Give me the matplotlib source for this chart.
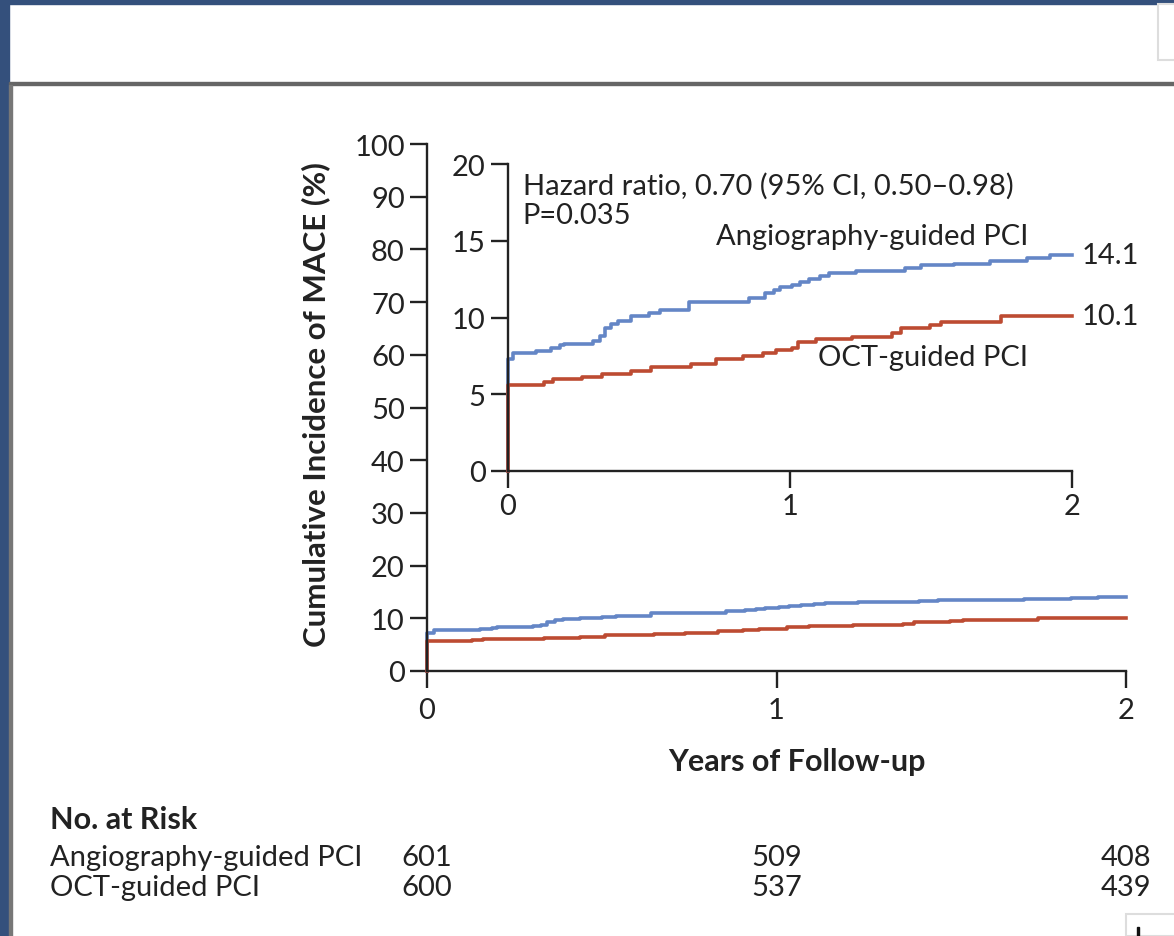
import matplotlib
matplotlib.use("Agg")
import matplotlib.pyplot as plt
from matplotlib.patches import Rectangle
from matplotlib.transforms import blended_transform_factory

plt.rcParams["font.family"] = ["Lato", "DejaVu Sans"]

# Kaplan-Meier style cumulative incidence (%), step changes at these years
angio_t = [0.0, 0.0, 0.019, 0.098, 0.153, 0.185, 0.20, 0.303, 0.327, 0.343, 0.366,
           0.39, 0.437, 0.50, 0.54, 0.642, 0.856, 0.911, 0.942, 0.966, 1.006, 1.037,
           1.069, 1.108, 1.14, 1.234, 1.408, 1.463, 1.582, 1.708, 1.842, 1.921, 2.0]
angio_y = [0.0, 7.3, 7.7, 7.8, 8.0, 8.2, 8.3, 8.5, 8.8, 9.3, 9.6,
           9.8, 10.1, 10.3, 10.5, 11.0, 11.3, 11.6, 11.8, 12.0, 12.1, 12.3,
           12.5, 12.7, 12.9, 13.0, 13.2, 13.4, 13.5, 13.7, 13.9, 14.1, 14.1]
oct_t = [0.0, 0.0, 0.129, 0.161, 0.264, 0.335, 0.437, 0.508, 0.65, 0.737, 0.832,
         0.903, 0.95, 1.006, 1.029, 1.092, 1.219, 1.361, 1.392, 1.495, 1.534, 1.747, 2.0]
oct_y = [0.0, 5.6, 5.8, 6.0, 6.1, 6.3, 6.5, 6.8, 7.0, 7.3, 7.5,
         7.7, 7.9, 8.0, 8.4, 8.6, 8.7, 9.0, 9.3, 9.5, 9.7, 10.1, 10.1]

groups = ["Angiography-guided PCI", "OCT-guided PCI"]
final_pct = ["14.1", "10.1"]
risk_years = [0, 1, 2]
risk_angio = [601, 509, 408]
risk_oct = [600, 537, 439]

BLUE = "#6486c6"
RED = "#bd4b32"
INK = "#222222"
FS = 21

W, H = 1174, 937
fig = plt.figure(figsize=(W / 100, H / 100), dpi=100)


def fx(x):
    return x / W


def fy(y):
    return 1 - y / H


# page chrome around the figure panel
fig.patches.append(Rectangle((0, 0), fx(9), 1, transform=fig.transFigure,
                             color="#34507c", zorder=0))
fig.patches.append(Rectangle((0, fy(5)), 1, 5 / H, transform=fig.transFigure,
                             color="#34507c", zorder=0))
fig.patches.append(Rectangle((fx(9), fy(86)), 1, 3 / H, transform=fig.transFigure,
                             color="#666666", zorder=1))
fig.patches.append(Rectangle((fx(9), 0), 3 / W, fy(86), transform=fig.transFigure,
                             color="#777777", zorder=1))
fig.patches.append(Rectangle((fx(1158), fy(61)), 20 / W, 56 / H, transform=fig.transFigure,
                             facecolor="white", edgecolor="#dddddd", lw=1.5, zorder=1))
fig.patches.append(Rectangle((fx(1126), 0), 60 / W, 22 / H, transform=fig.transFigure,
                             facecolor="white", edgecolor="#dddddd", lw=1.5, zorder=1))
fig.patches.append(Rectangle((fx(1137), 0), 2 / W, 9 / H, transform=fig.transFigure,
                             color="#111111", zorder=2))


def style_axes(ax):
    for side in ("top", "right"):
        ax.spines[side].set_visible(False)
    for side in ("left", "bottom"):
        ax.spines[side].set_color(INK)
        ax.spines[side].set_linewidth(1.7)
    ax.tick_params(direction="out", length=12, width=1.7, color=INK,
                   labelsize=FS, labelcolor=INK, pad=4)
    ax.set_xlim(0, 2)
    ax.set_xticks([0, 1, 2])


# main panel, full 0-100 scale
ax = fig.add_axes([fx(427), fy(672), fx(1126) - fx(427), fy(145) - fy(672)])
ax.step(angio_t, angio_y, where="post", color=BLUE, lw=2.6, clip_on=False)
ax.step(oct_t, oct_y, where="post", color=RED, lw=2.6, clip_on=False)
ax.set_ylim(0, 100)
ax.set_yticks(range(0, 101, 10))
style_axes(ax)
ax.tick_params(axis="x", pad=7)
ax.set_xlabel("Years of Follow-up", fontsize=22, fontweight="bold", color=INK, va="center")
ax.xaxis.set_label_coords(0.529, -0.171)
ax.set_ylabel("Cumulative Incidence of MACE (%)", fontsize=22.5, fontweight="bold",
              color=INK, va="center")
ax.yaxis.set_label_coords(-0.159, 0.508)

# inset, zoomed to 0-20
axi = fig.add_axes([fx(508), fy(472), fx(1072) - fx(508), fy(165) - fy(472)])
axi.step(angio_t, angio_y, where="post", color=BLUE, lw=2.6, clip_on=False)
axi.step(oct_t, oct_y, where="post", color=RED, lw=2.6, clip_on=False)
axi.set_ylim(0, 20)
axi.set_yticks(range(0, 21, 5))
axi.patch.set_alpha(0)
style_axes(axi)

axi.text(0.052, 18.6, "Hazard ratio, 0.70 (95% CI, 0.50\u20130.98)", fontsize=FS,
         color=INK, va="center")
axi.text(0.052, 16.7, "P=0.035", fontsize=FS, color=INK, va="center")
axi.text(1.845, 15.3, groups[0], fontsize=FS, color=INK, ha="right", va="center")
axi.text(1.845, 7.4, groups[1], fontsize=FS, color=INK, ha="right", va="center")
axi.text(2.035, angio_y[-1], final_pct[0], fontsize=FS, color=INK, va="center",
         clip_on=False)
axi.text(2.035, oct_y[-1], final_pct[1], fontsize=FS, color=INK, va="center",
         clip_on=False)

# number-at-risk table under the x axis
fig.text(fx(50), fy(820), "No. at Risk", fontsize=22, fontweight="bold", color=INK,
         va="center")
fig.text(fx(50), fy(858), groups[0], fontsize=FS, color=INK, va="center")
fig.text(fx(50), fy(888), groups[1], fontsize=FS, color=INK, va="center")
tr = blended_transform_factory(ax.transData, fig.transFigure)
for yr, a, o in zip(risk_years, risk_angio, risk_oct):
    ax.text(yr, fy(858), str(a), transform=tr, fontsize=FS, color=INK,
            ha="center", va="center")
    ax.text(yr, fy(888), str(o), transform=tr, fontsize=FS, color=INK,
            ha="center", va="center")

fig.savefig("out.png", dpi=100, facecolor="white")
